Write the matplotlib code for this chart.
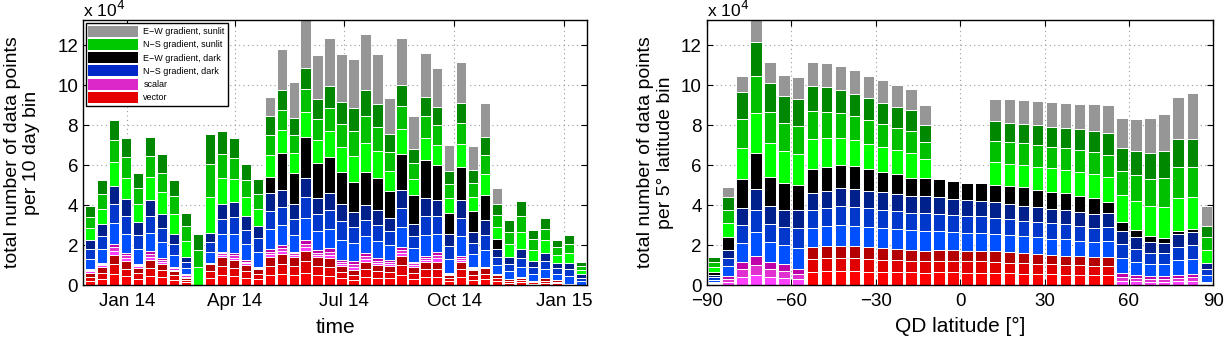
import numpy as np
import pandas as pd
import matplotlib
matplotlib.use("Agg")
import matplotlib.pyplot as plt
import matplotlib.dates as mdates
from matplotlib.patches import Patch

plt.rcParams['font.family'] = ['Liberation Sans', 'DejaVu Sans']

# ---- left panel: 10 day bins (values in units of 1e4), cumulative stack tops
bin_start = pd.date_range('2013-11-26', periods=42, freq='10D')
t_vector = [0.62, 0.9, 1.5, 1.2, 0.87, 1.27, 1.07, 0.7, 0.37, 0, 1.03, 1.4, 1.23, 1.0, 0.78,
            1.41, 1.53, 1.41, 1.71, 1.38, 1.33, 0.95, 0.75, 1.16, 1.0, 0.95, 1.45, 0.91, 1.15, 1.16,
            0.5, 1.16, 0.75, 0.83, 0.5, 0.28, 0.37, 0.2, 0.33, 0.25, 0.05, 0]
t_scalar = [0.8, 1.12, 2.07, 1.62, 1.07, 1.7, 1.33, 0.9, 0.53, 0, 1.12, 1.67, 1.62, 1.23, 0.91,
            1.78, 1.99, 1.66, 2.24, 1.74, 1.83, 1.25, 1.21, 1.58, 1.33, 1.25, 1.88, 1.16, 1.45, 1.63,
            0.6, 1.45, 0.91, 0.91, 0.55, 0.3, 0.4, 0.22, 0.35, 0.27, 0.06, 0]
t_ns_dark = [2.23, 3.03, 4.95, 4.28, 3.17, 4.23, 3.57, 2.57, 1.4, 0, 2.62, 4.07, 4.17, 3.45, 2.97,
             4.6, 4.77, 4.07, 5.35, 4.37, 4.6, 4.07, 3.65, 4.02, 3.77, 3.37, 4.73, 3.07, 4.37, 4.24,
             2.57, 4.24, 2.66, 3.24, 1.78, 1.41, 1.78, 1.2, 1.61, 1.11, 1.11, 0.53]
t_ew_dark = [2.23, 3.03, 4.95, 4.28, 3.17, 4.23, 3.57, 2.57, 1.4, 0, 2.62, 4.07, 4.17, 3.45, 2.97,
             5.4, 6.6, 5.6, 7.39, 6.1, 6.4, 5.65, 5.15, 5.65, 5.37, 4.7, 6.56, 4.49, 6.23, 5.98,
             3.62, 5.9, 3.69, 4.49, 2.29, 1.41, 1.78, 1.2, 1.61, 1.11, 1.11, 0.53]
t_ns_sun = [3.95, 5.23, 8.28, 7.33, 5.62, 7.43, 6.53, 5.27, 3.62, 2.53, 7.58, 7.7, 7.37, 6.07, 5.28,
            8.47, 9.75, 8.34, 10.88, 9.3, 9.97, 9.14, 8.84, 9.75, 9.05, 7.56, 10.02, 6.81, 9.42, 8.89,
            5.7, 9.09, 5.73, 7.39, 4.04, 3.24, 4.2, 2.77, 3.37, 2.24, 2.49, 1.16]
t_ew_sun = [3.95, 5.23, 8.28, 7.33, 5.62, 7.43, 6.53, 5.27, 3.62, 2.53, 7.58, 7.7, 7.37, 6.07, 5.28,
            9.42, 11.83, 10.17, 13.3, 11.5, 12.38, 11.55, 11.33, 12.57, 11.58, 9.34, 12.34, 8.47, 11.6, 10.85,
            6.98, 11.15, 6.94, 9.09, 4.85, 3.24, 4.2, 2.77, 3.37, 2.24, 2.49, 1.16]

# ---- right panel: 5 deg QD latitude bins
lat_centre = np.arange(-87.5, 90, 5)
l_vector = [0] * 7 + [1.88, 1.93, 1.96, 1.93, 1.88, 1.83, 1.8, 1.76, 1.71, 1.76, 1.76, 1.71, 1.71,
                      1.68, 1.63, 1.6, 1.55, 1.5, 1.46, 1.43, 1.38, 1.38] + [0] * 7
l_scalar = [0.13, 0.47, 1.13, 1.43, 1.16, 1.05, 0.8,
            1.88, 1.93, 1.96, 1.93, 1.88, 1.83, 1.8, 1.76, 1.71, 1.76, 1.76, 1.71, 1.71,
            1.68, 1.63, 1.6, 1.55, 1.5, 1.46, 1.43, 1.38, 1.38,
            0.6, 0.5, 0.47, 0.43, 0.5, 0.55, 0.17]
l_ns_dark = [0.5, 1.76, 3.83, 4.79, 3.93, 3.76, 3.76, 4.58, 4.71, 4.83, 4.79, 4.71, 4.63, 4.54,
             4.46, 4.43, 4.38, 4.29, 4.24, 4.21, 4.13, 4.04, 3.96, 3.88, 3.79, 3.76, 3.63, 3.54,
             3.6, 2.71, 2.38, 2.13, 2.1, 2.55, 2.63, 1.1]
l_ew_dark = [0.63, 2.38, 5.29, 6.62, 5.42, 5.12, 4.99, 5.82, 5.92, 5.99, 5.96, 5.79, 5.66, 5.54,
             5.37, 5.37, 5.29, 5.21, 5.12, 5.09, 4.99, 4.93, 4.88, 4.76, 4.66, 4.59, 4.46, 4.33,
             4.16, 3.16, 2.76, 2.43, 2.36, 2.71, 2.8, 1.1]
l_ns_sun = [1.38, 4.38, 9.65, 12.15, 10.12, 9.48, 9.32, 9.98, 9.92, 9.78, 9.58, 9.35, 9.12, 8.92,
            8.74, 7.99, 5.29, 5.21, 5.12, 5.09, 8.2, 8.12, 8.07, 7.99, 7.92, 7.84, 7.79, 7.7,
            7.59, 6.87, 6.71, 6.62, 6.71, 7.32, 7.32, 2.96]
l_ew_sun = [1.45, 4.88, 10.48, 13.3, 11.15, 10.53, 10.42, 11.15, 11.11, 10.95, 10.75, 10.45, 10.25, 10.0,
            9.82, 9.03, 5.29, 5.21, 5.12, 5.09, 9.32, 9.32, 9.25, 9.2, 9.15, 9.12, 9.08, 9.07,
            9.03, 8.37, 8.32, 8.37, 8.54, 9.42, 9.62, 3.96]

# share of each satellite shade inside a category (bottom -> top)
sat_share = [0.36, 0.33, 0.31]

shades = {
    'vector': ['#ff0000', '#e00000', '#b40000'],
    'scalar': ['#ff40ff', '#e030d0', '#c000a8'],
    'ns_dark': ['#0050ff', '#0038cc', '#00208c'],
    'ew_dark': ['#000000'],
    'ns_sun': ['#00ff00', '#00c000', '#008800'],
    'ew_sun': ['#969696'],
}
legend_items = [('E\u2212W gradient, sunlit', '#969696'),
                ('N\u2212S gradient, sunlit', '#00c800'),
                ('E\u2212W gradient, dark', '#000000'),
                ('N\u2212S gradient, dark', '#0028c8'),
                ('scalar', '#dc28c8'),
                ('vector', '#e60000')]

YTOP = 13.25


def draw_stack(ax, x, width, tops):
    order = ['vector', 'scalar', 'ns_dark', 'ew_dark', 'ns_sun', 'ew_sun']
    bottom = np.zeros(len(x))
    for key, top in zip(order, tops):
        top = np.asarray(top, dtype=float)
        h = np.clip(top - bottom, 0, None)
        cols = shades[key]
        share = sat_share if len(cols) == 3 else [1.0]
        b = bottom.copy()
        for c, s in zip(cols, share):
            ax.bar(x, h * s, width, bottom=b, color=c, edgecolor='white', linewidth=0.7)
            b = b + h * s
        bottom = np.maximum(bottom, top)


def style(ax):
    ax.set_ylim(0, YTOP)
    ax.set_yticks(range(0, 13, 2))
    ax.grid(True, color='#9a9a9a', linestyle=(0, (1, 3)), linewidth=0.8)
    ax.set_axisbelow(True)
    ax.tick_params(direction='in', top=True, right=True, labelsize=13.5, length=4)
    ax.tick_params(axis='x', pad=6)
    for s in ax.spines.values():
        s.set_linewidth(1.0)
    ax.text(0, 1.0, r'x 10$^4$', transform=ax.transAxes, fontsize=12.5, va='bottom', ha='left')


fig = plt.figure(figsize=(12.27, 3.41), dpi=100)
ax1 = fig.add_axes([0.0676, 0.164, 0.4108, 0.777])
ax2 = fig.add_axes([0.576, 0.164, 0.4129, 0.777])

centres = mdates.date2num(bin_start + pd.Timedelta(days=5))
draw_stack(ax1, centres, 8.6, [t_vector, t_scalar, t_ns_dark, t_ew_dark, t_ns_sun, t_ew_sun])
ax1.set_xlim(mdates.date2num(pd.Timestamp('2013-11-25')), mdates.date2num(pd.Timestamp('2015-01-20')))
ax1.set_xticks(mdates.date2num(pd.to_datetime(['2014-01-01', '2014-04-01', '2014-07-01',
                                                '2014-10-01', '2015-01-01'])))
ax1.set_xticklabels(['Jan 14', 'Apr 14', 'Jul 14', 'Oct 14', 'Jan 15'])
style(ax1)
ax1.set_xlabel('time', fontsize=15)
ax1.set_ylabel('total number of data points\nper 10 day bin', fontsize=14)
ax1.xaxis.set_label_coords(0.5, -0.125)
ax1.yaxis.set_label_coords(-0.085, 0.5)
handles = [Patch(facecolor=c, edgecolor='none', label=l) for l, c in legend_items]
leg = ax1.legend(handles=handles, loc='upper left', fontsize=6.5, fancybox=False,
                 framealpha=1, edgecolor='black', handlelength=5.5, handleheight=1.5,
                 labelspacing=0.25, borderaxespad=0.3, handletextpad=0.6, borderpad=0.3)
leg.get_frame().set_linewidth(1.0)

draw_stack(ax2, lat_centre, 4.1, [l_vector, l_scalar, l_ns_dark, l_ew_dark, l_ns_sun, l_ew_sun])
ax2.set_xlim(-90, 90)
ax2.set_xticks(range(-90, 91, 30))
ax2.set_xticklabels([str(v).replace('-', '\u2212') for v in range(-90, 91, 30)])
style(ax2)
ax2.set_xlabel('QD latitude [\u00b0]', fontsize=15)
ax2.set_ylabel('total number of data points\nper 5\u00b0 latitude bin', fontsize=14)
ax2.xaxis.set_label_coords(0.5, -0.12)
ax2.yaxis.set_label_coords(-0.065, 0.5)

fig.savefig('out.png', dpi=100)
